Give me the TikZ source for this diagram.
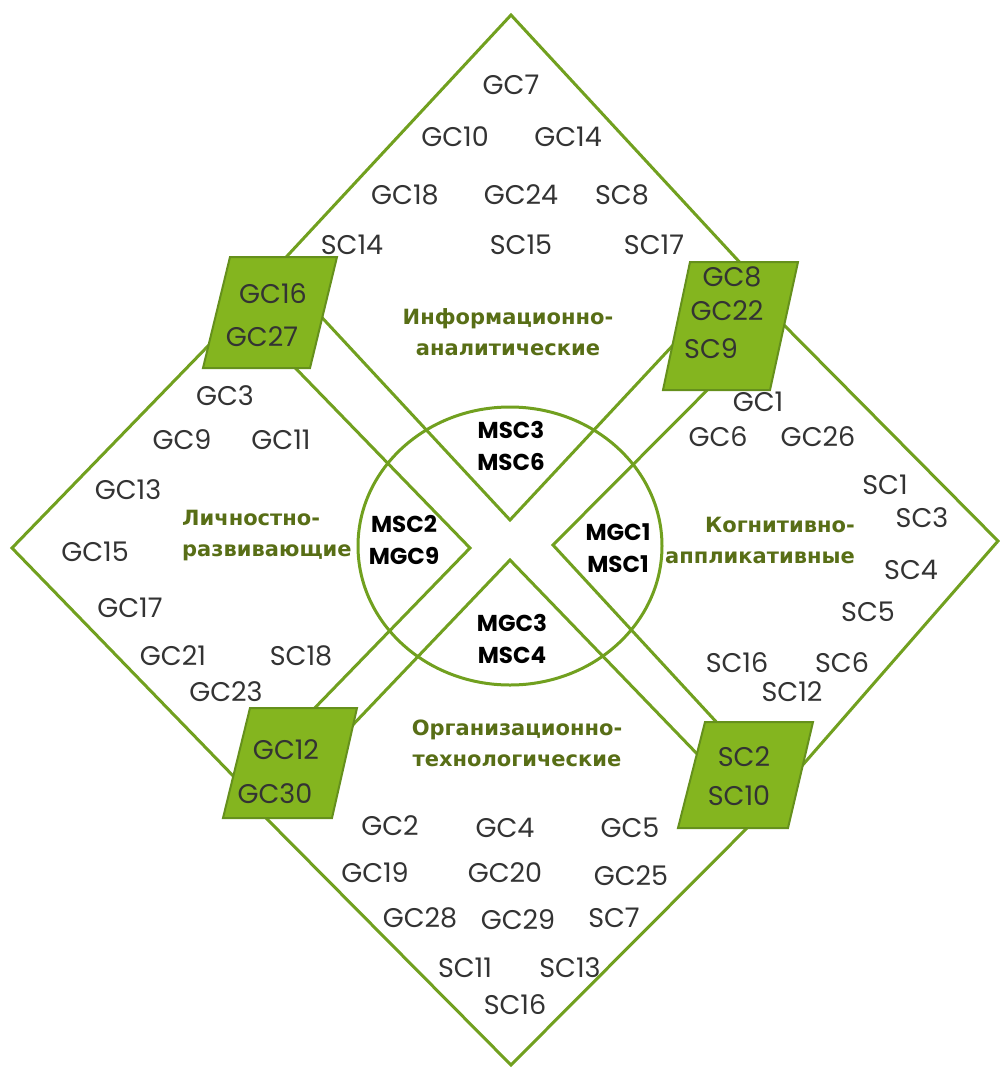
\documentclass[tikz,border=0pt]{standalone}
\usepackage{fontspec}
\setmainfont{Poppins}
\newfontfamily\areafont{DejaVu Sans}
\usetikzlibrary{positioning}
\definecolor{linegreen}{HTML}{71A01F}
\definecolor{boxgreen}{HTML}{84B51F}
\definecolor{boxedge}{HTML}{65901C}
\definecolor{olivetext}{HTML}{586E16}

\begin{document}
\begin{tikzpicture}[x=1pt, y=-1pt,
        % contour of the four fields and the core
        frame/.style={
            draw=linegreen,
            line width=3pt,
            line join=miter
        },
        % green corner boxes
        keybox/.style={
            draw=boxedge,
            fill=boxgreen,
            line width=2pt
        },
        % plain competence codes
        code/.style={
            font=\fontsize{27}{27}\selectfont,
            text=black!80,
            inner sep=0pt
        },
        % codes inside the core
        core/.style={
            font=\bfseries\fontsize{23}{32}\selectfont,
            align=center,
            inner sep=0pt
        },
        % names of the four fields
        area/.style={
            font=\areafont\bfseries\fontsize{21}{31}\selectfont,
            text=olivetext,
            inner sep=0pt
        }
    ]

    \useasboundingbox (0,0) rectangle (1000,1077);

    % --- FIELDS ---
    \draw[frame] (511,15) -- (745,268) -- (510,520) -- (276,268) -- cycle;
    \draw[frame] (12,548) -- (241,312) -- (470,548) -- (241,784) -- cycle;
    \draw[frame] (553,545) -- (778,319) -- (998,541) -- (780,791) -- cycle;
    \draw[frame] (510,560) -- (758,817) -- (511,1065) -- (265,817) -- cycle;

    % core
    \draw[frame] (510,546) ellipse (152pt and 139pt);

    % --- CORNER BOXES ---
    \draw[keybox] (230,257) -- (337,257) -- (310,368) -- (203,368) -- cycle;
    \draw[keybox] (690,262) -- (798,262) -- (770,390) -- (663,390) -- cycle;
    \draw[keybox] (250,708) -- (357,708) -- (332,818) -- (223,818) -- cycle;
    \draw[keybox] (705,722) -- (813,722) -- (788,828) -- (678,828) -- cycle;

    \node[code] (gc16) at (273,294) {GC16};
    \node[code] (gc27) at (262,337) {GC27};
    \node[code] (gc8)  at (732,277) {GC8};
    \node[code] (gc22) at (727,311) {GC22};
    \node[code] (sc9)  at (711,349) {SC9};
    \node[code] (gc12) at (286,750) {GC12};
    \node[code] (gc30) at (275,794) {GC30};
    \node[code] (sc2)  at (744,757) {SC2};
    \node[code] (sc10) at (739,796) {SC10};

    % --- FIELD NAMES ---
    \node[area, align=center] (info) at (508,332) {Информационно-\\аналитические};
    \node[area, align=left, anchor=west] (lich) at (182,536) {Личностно-\\развивающие};
    \node[area, align=right, anchor=east] (kogn) at (855,540) {Когнитивно-\\аппликативные};
    \node[area, align=center] (org) at (517,743) {Организационно-\\технологические};

    % --- CORE ---
    \node[core] (c-top)   at (511,446) {MSC3\\MSC6};
    \node[core] (c-left)  at (404,540) {MSC2\\MGC9};
    \node[core] (c-right) at (618,548) {MGC1\\MSC1};
    \node[core] (c-bot)   at (512,639) {MGC3\\MSC4};

    % --- CODES OF EACH FIELD ---
    \foreach \n/\x/\y in {GC7/511/85, GC10/455/137, GC14/568/137,
            GC18/405/195, GC24/521/195, SC8/622/195,
            SC14/352/245, SC15/521/245, SC17/654/245}
        \node[code] (t-\n) at (\x,\y) {\n};

    \foreach \n/\x/\y in {GC3/225/396, GC9/182/440, GC11/281/440,
            GC13/128/490, GC15/95/552, GC17/130/608,
            GC21/173/656, SC18/301/656, GC23/226/692}
        \node[code] (l-\n) at (\x,\y) {\n};

    \foreach \n/\x/\y in {GC1/758/402, GC6/718/437, GC26/818/437,
            SC1/885/485, SC3/922/518, SC4/911/570, SC5/868/612,
            SC16/737/663, SC6/842/663, SC12/792/692}
        \node[code] (r-\n) at (\x,\y) {\n};

    \foreach \n/\x/\y in {GC2/390/826, GC4/505/828, GC5/630/828,
            GC19/375/873, GC20/505/873, GC25/631/876,
            GC28/420/918, GC29/518/920, SC7/614/918,
            SC11/465/968, SC13/570/968, SC16/515/1005}
        \node[code] (b-\n) at (\x,\y) {\n};

\end{tikzpicture}
\end{document}
